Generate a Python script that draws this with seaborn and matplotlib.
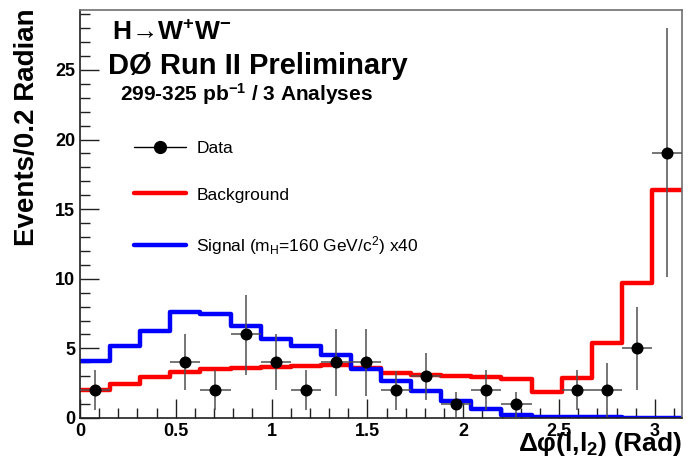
import numpy as np
import pandas as pd
import matplotlib
matplotlib.use("Agg")
import matplotlib.pyplot as plt
from matplotlib.lines import Line2D
from matplotlib.ticker import MultipleLocator
import seaborn as sns

# ---- data ----
nbins = 20
edges = np.linspace(0, np.pi, nbins + 1)
centers = 0.5 * (edges[:-1] + edges[1:])

background = [2.03, 2.44, 2.92, 3.33, 3.50, 3.60, 3.67, 3.74, 3.80, 3.60,
              3.25, 3.12, 3.02, 2.92, 2.78, 1.84, 2.85, 5.38, 9.73, 16.35]
signal_x40 = [4.08, 5.17, 6.23, 7.63, 7.44, 6.62, 5.70, 5.15, 4.50, 3.54,
              2.64, 1.92, 1.21, 0.68, 0.24, 0.10, 0.05, 0.04, 0.03, 0.03]
data_counts = [2, 0, 0, 4, 2, 6, 4, 2, 4, 4, 2, 3, 1, 2, 1, 0, 2, 2, 5, 19]
err_up = [1.42, 0, 0, 2.0, 1.45, 2.85, 2.0, 1.45, 2.4, 2.4, 1.4, 1.7, 0.9, 1.45,
          0.9, 0, 1.45, 1.95, 3.0, 9.0]
err_down = [1.45, 0, 0, 2.0, 1.4, 2.9, 2.0, 1.4, 2.45, 2.45, 1.4, 1.7, 1.0, 1.45,
            0.9, 0, 1.4, 1.9, 3.0, 8.9]

xticks = [0, 0.5, 1, 1.5, 2, 2.5, 3]
xticklabels = ["0", "0.5", "1", "1.5", "2", "2.5", "3"]
yticks = [0, 5, 10, 15, 20, 25]

sns.set_theme(style="ticks")
plt.rcParams["font.family"] = ["Liberation Sans", "DejaVu Sans"]
plt.rcParams["mathtext.default"] = "regular"
plt.rcParams["text.color"] = "black"
plt.rcParams["axes.labelcolor"] = "black"

fig = plt.figure(figsize=(6.9, 4.68), dpi=100)
W, H = 690, 468
ax = fig.add_axes([80 / W, 1 - 418 / H, 602 / W, 408 / H])

df = pd.DataFrame({"x": centers, "bkg": background, "sig": signal_x40,
                   "n": data_counts, "eu": err_up, "ed": err_down})

sns.histplot(data=df, x="x", weights="bkg", bins=nbins, binrange=(0, np.pi),
             element="step", fill=False, color="#ff0000", linewidth=3.2, ax=ax)
sns.histplot(data=df, x="x", weights="sig", bins=nbins, binrange=(0, np.pi),
             element="step", fill=False, color="#0000ff", linewidth=3.2, ax=ax)

dd = df[df["n"] > 0]
halfw = (edges[1] - edges[0]) / 2
ax.errorbar(dd["x"], dd["n"], xerr=halfw, yerr=[dd["ed"], dd["eu"]],
            fmt="none", ecolor="#505050", elinewidth=1.1, capsize=0, zorder=4)
sns.scatterplot(data=dd, x="x", y="n", color="black", s=75, marker="o",
                edgecolor="black", linewidth=0, ax=ax, zorder=5)

ax.set_xlim(0, np.pi)
ax.set_ylim(0, 29.3)
ax.set_xticks(xticks)
ax.set_xticklabels(xticklabels)
ax.set_yticks(yticks)
ax.xaxis.set_minor_locator(MultipleLocator(0.1))
ax.yaxis.set_minor_locator(MultipleLocator(1))
ax.tick_params(which="both", direction="in", top=False, right=False,
               colors="#202020", width=1.0)
ax.tick_params(which="major", length=14, labelsize=13, pad=3.5)
ax.tick_params(which="minor", length=7)
for lab in ax.get_xticklabels() + ax.get_yticklabels():
    lab.set_fontweight("bold")
    lab.set_color("black")
for s in ["left", "bottom"]:
    ax.spines[s].set_color("#202020")
    ax.spines[s].set_linewidth(1.2)
for s in ["top", "right"]:
    ax.spines[s].set_visible(True)
    ax.spines[s].set_color("#707070")
    ax.spines[s].set_linewidth(1.2)

ax.set_ylabel("Events/0.2 Radian", fontsize=20, fontweight="bold", loc="top")
ax.yaxis.set_label_coords(-0.066, 1.005)
ax.set_xlabel("Δφ(l,l$_2$) (Rad)", fontsize=19, fontweight="bold", loc="right")
ax.xaxis.set_label_coords(1.0, -0.03)

fig.text(112 / W, 1 - 40 / H, "H→W$^{+}$W$^{-}$", fontsize=19,
         fontweight="bold", va="baseline", ha="left")
fig.text(108 / W, 1 - 74 / H, "DØ Run II Preliminary", fontsize=21,
         fontweight="bold", va="baseline", ha="left")
fig.text(120 / W, 1 - 101 / H, "299-325 pb$^{-1}$ / 3 Analyses", fontsize=15,
         fontweight="bold", va="baseline", ha="left")

handles = [
    Line2D([], [], color="black", lw=1, marker="o", markersize=8.5),
    Line2D([], [], color="#ff0000", lw=3.2),
    Line2D([], [], color="#0000ff", lw=3.2),
]
labels = ["Data", "Background", "Signal (m$_H$=160 GeV/c$^2$) x40"]
ax.legend(handles, labels, loc="upper left",
          bbox_to_anchor=(134 / W, 1 - 141 / H), bbox_transform=fig.transFigure,
          frameon=False, fontsize=12.5, handlelength=3.0, handletextpad=0.6,
          labelspacing=1.8, borderpad=0, borderaxespad=0)

fig.savefig("out.png", dpi=100)
